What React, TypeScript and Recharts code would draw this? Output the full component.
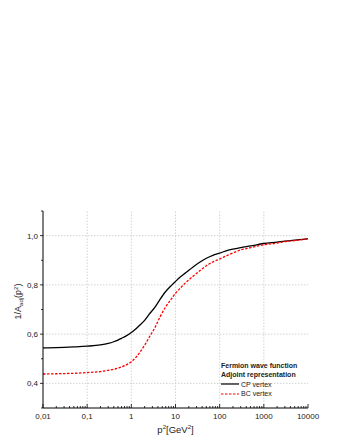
import React from 'react';
import { LineChart, Line, XAxis, YAxis, ReferenceLine, Legend } from 'recharts';

const P_VALUES = [0.01, 0.02, 0.05, 0.1, 0.2, 0.3, 0.4, 0.5, 0.6, 0.75, 1, 1.2, 1.5, 2, 2.5, 3.5, 4.5, 6, 8, 10, 13, 17, 25, 36, 50, 70, 100, 150, 300, 500, 1000, 2000, 3000, 5000, 10000];
const CP_VALUES = [0.544, 0.545, 0.548, 0.551, 0.556, 0.562, 0.569, 0.576, 0.583, 0.592, 0.607, 0.618, 0.634, 0.656, 0.679, 0.712, 0.742, 0.773, 0.797, 0.814, 0.833, 0.849, 0.873, 0.893, 0.908, 0.92, 0.929, 0.94, 0.951, 0.958, 0.968, 0.974, 0.978, 0.982, 0.987];
const BC_VALUES = [0.438, 0.439, 0.441, 0.444, 0.448, 0.453, 0.457, 0.462, 0.467, 0.474, 0.488, 0.501, 0.522, 0.555, 0.585, 0.63, 0.671, 0.711, 0.742, 0.766, 0.788, 0.809, 0.835, 0.858, 0.878, 0.893, 0.905, 0.92, 0.942, 0.951, 0.963, 0.97, 0.976, 0.98, 0.987];

const X_MAJOR = [0.01, 0.1, 1, 10, 100, 1000, 10000];
const X_MINOR_MULT = [2, 3, 4, 5, 6, 7, 8, 9];
const X_GRID = [0.1, 1, 10, 100, 1000];
const Y_TICKS = [0.3, 0.4, 0.5, 0.6, 0.7, 0.8, 0.9, 1.0, 1.1];
const Y_MAJOR = [0.4, 0.6, 0.8, 1.0];

const SERIES = [
  { key: 'cp', name: 'CP vertex', color: '#000000', dash: undefined as string | undefined, width: 1.3 },
  { key: 'bc', name: 'BC vertex', color: '#ff0000', dash: '2.5 1.5', width: 1.3 },
];

const data = P_VALUES.map((p, i) => ({ p, cp: CP_VALUES[i], bc: BC_VALUES[i] }));

const X_TICKS: number[] = [];
X_MAJOR.forEach((m, i) => {
  X_TICKS.push(m);
  if (i < X_MAJOR.length - 1) X_MINOR_MULT.forEach((k) => X_TICKS.push(m * k));
});

const FONT = '"Liberation Sans", Arial, Helvetica, sans-serif';
const TXT = '#222';

const isDecade = (v: number) => Math.abs(Math.log10(v) - Math.round(Math.log10(v))) < 1e-6;
const fmtX = (v: number) => String(v).replace('.', ',');
const isYMajor = (v: number) => Y_MAJOR.some((m) => Math.abs(m - v) < 1e-6);
const fmtY = (v: number) => v.toFixed(1).replace('.', ',');

const BottomTick = (props: any) => {
  const { x, y, payload } = props;
  const v = payload.value;
  const major = isDecade(v);
  return (
    <g>
      <line x1={x} x2={x} y1={y} y2={y - (major ? 4 : 2)} stroke="#000" strokeWidth={0.8} />
      {major && (
        <text x={x} y={y + 11} textAnchor="middle" fontSize={8} fontFamily={FONT} fill={TXT}>
          {fmtX(v)}
        </text>
      )}
    </g>
  );
};

const TopTick = (props: any) => {
  const { x, y, payload } = props;
  const major = isDecade(payload.value);
  return <line x1={x} x2={x} y1={y} y2={y + (major ? 4 : 2)} stroke="#000" strokeWidth={0.8} />;
};

const LeftTick = (props: any) => {
  const { x, y, payload } = props;
  const v = payload.value;
  const major = isYMajor(v);
  return (
    <g>
      <line x1={x} x2={x - (major ? 3 : 2)} y1={y} y2={y} stroke="#000" strokeWidth={0.8} />
      {major && (
        <text x={x - 5} y={y + 3} textAnchor="end" fontSize={8} fontFamily={FONT} fill={TXT}>
          {fmtY(v)}
        </text>
      )}
    </g>
  );
};

const RightTick = (props: any) => {
  const { x, y, payload } = props;
  const major = isYMajor(payload.value);
  return <line x1={x} x2={x - (major ? 4 : 2)} y1={y} y2={y} stroke="#000" strokeWidth={0.8} />;
};

const YLabel = (props: any) => {
  const vb = props.viewBox || { x: 0, y: 0, width: 43, height: 197 };
  const cx = vb.x + 21;
  const cy = vb.y + vb.height / 2 - 8;
  return (
    <text x={cx} y={cy} transform={`rotate(-90, ${cx}, ${cy})`} textAnchor="middle" fontSize={9} fontFamily={FONT} fill={TXT}>
      <tspan>1/A</tspan>
      <tspan fontSize={6} dy={2}>adj</tspan>
      <tspan dy={-2}>(p</tspan>
      <tspan fontSize={6} dy={-3.5}>2</tspan>
      <tspan dy={3.5}>)</tspan>
    </text>
  );
};

const XLabel = (props: any) => {
  const vb = props.viewBox || { x: 43, y: 408, width: 265, height: 32 };
  const cx = vb.x + vb.width / 2;
  const cy = vb.y + 25;
  return (
    <text x={cx} y={cy} textAnchor="middle" fontSize={9.5} fontFamily={FONT} fill={TXT}>
      <tspan>p</tspan>
      <tspan fontSize={6} dy={-4}>2</tspan>
      <tspan dy={4}>[GeV</tspan>
      <tspan fontSize={6} dy={-4}>2</tspan>
      <tspan dy={4}>]</tspan>
    </text>
  );
};

const LegendContent = () => {
  const rowStyle: React.CSSProperties = { height: 9.4, lineHeight: '9.4px', whiteSpace: 'nowrap' };
  return (
    <div style={{ fontFamily: FONT, fontSize: 7, color: TXT, textAlign: 'left' }}>
      <div style={{ ...rowStyle, fontWeight: 'bold' }}>Fermion wave function</div>
      <div style={{ ...rowStyle, fontWeight: 'bold' }}>Adjoint representation</div>
      {SERIES.map((s) => (
        <div key={s.key} style={{ ...rowStyle, display: 'flex', alignItems: 'center' }}>
          <svg width={19} height={4} style={{ display: 'block' }}>
            <line x1={0} x2={18} y1={2} y2={2} stroke={s.color} strokeWidth={1.2} strokeDasharray={s.dash} />
          </svg>
          <span style={{ marginLeft: 1 }}>{s.name}</span>
        </div>
      ))}
    </div>
  );
};

export default function App() {
  return (
    <div style={{ position: 'absolute', left: 0, top: 0, width: 340, height: 440, background: '#fff' }}>
      <LineChart width={340} height={440} data={data} margin={{ top: 211, right: 32, bottom: 0, left: 0 }}>
        <XAxis
          dataKey="p"
          type="number"
          scale="log"
          domain={[0.01, 10000]}
          allowDataOverflow
          ticks={X_TICKS}
          interval={0}
          height={32}
          tickSize={0}
          tickMargin={0}
          tickLine={false}
          tick={BottomTick}
          axisLine={{ stroke: '#000', strokeWidth: 1 }}
          label={XLabel}
        />
        <XAxis
          xAxisId="top"
          dataKey="p"
          type="number"
          scale="log"
          orientation="top"
          domain={[0.01, 10000]}
          allowDataOverflow
          ticks={X_TICKS}
          interval={0}
          height={0}
          tickSize={0}
          tickMargin={0}
          tickLine={false}
          tick={TopTick}
          axisLine={{ stroke: '#000', strokeWidth: 1 }}
        />
        <YAxis
          type="number"
          domain={[0.3, 1.1]}
          allowDataOverflow
          ticks={Y_TICKS}
          interval={0}
          width={43}
          tickSize={0}
          tickMargin={0}
          tickLine={false}
          tick={LeftTick}
          axisLine={{ stroke: '#000', strokeWidth: 1 }}
          label={YLabel}
        />
        <YAxis
          yAxisId="right"
          orientation="right"
          type="number"
          domain={[0.3, 1.1]}
          allowDataOverflow
          ticks={Y_TICKS}
          interval={0}
          width={0}
          tickSize={0}
          tickMargin={0}
          tickLine={false}
          tick={RightTick}
          axisLine={{ stroke: '#000', strokeWidth: 1 }}
        />
        {X_GRID.map((v) => (
          <ReferenceLine key={'gx' + v} x={v} stroke="#c8c8c8" strokeWidth={0.8} strokeDasharray="1.5 1.5" />
        ))}
        {Y_MAJOR.map((v) => (
          <ReferenceLine key={'gy' + v} y={v} stroke="#c8c8c8" strokeWidth={0.8} strokeDasharray="1.5 1.5" />
        ))}
        {SERIES.map((s) => (
          <Line
            key={s.key}
            dataKey={s.key}
            name={s.name}
            type="monotone"
            stroke={s.color}
            strokeWidth={s.width}
            strokeDasharray={s.dash}
            dot={false}
            activeDot={false}
            isAnimationActive={false}
          />
        ))}
        <Legend
          layout="vertical"
          align="center"
          verticalAlign="middle"
          content={LegendContent}
          wrapperStyle={{ position: 'absolute', left: 221, top: 361, width: 90, height: 40 }}
        />
      </LineChart>
    </div>
  );
}
